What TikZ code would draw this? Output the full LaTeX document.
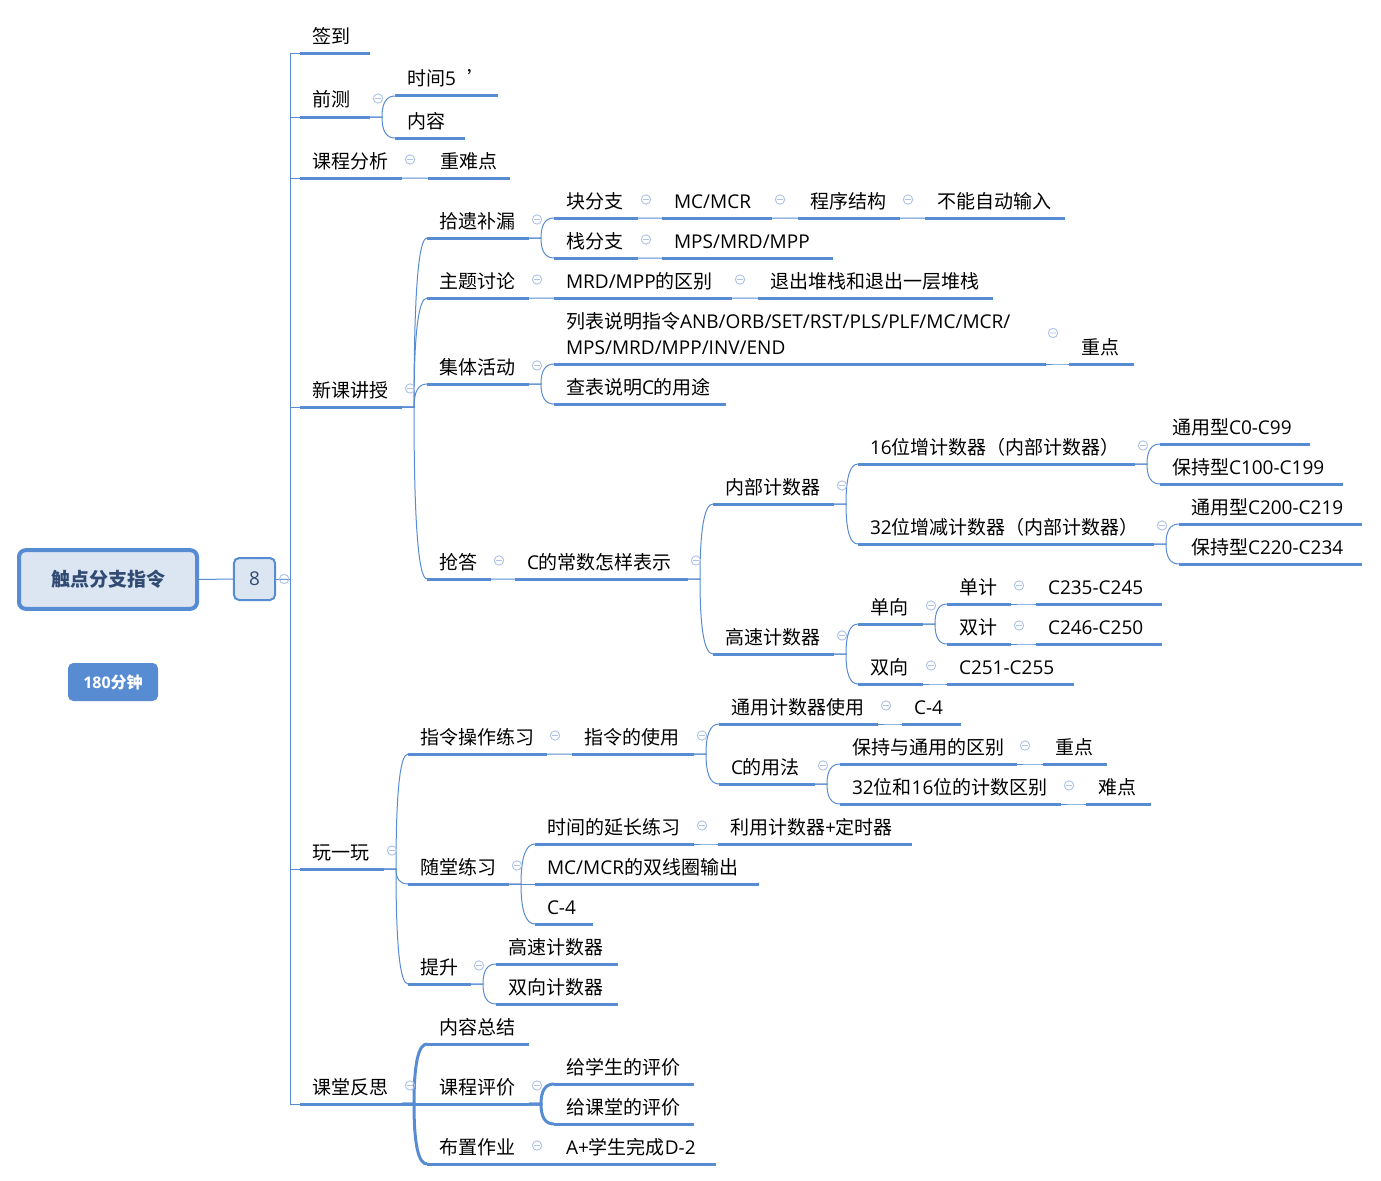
\documentclass[tikz,border=0pt]{standalone}
\usepackage{fontspec}
\setmainfont{Noto Sans CJK SC}
\newfontfamily\lt{Open Sans}
\usetikzlibrary{calc}
\definecolor{lineblue}{RGB}{88,140,210}
\definecolor{collc}{RGB}{175,195,232}
\definecolor{rootfill}{RGB}{220,230,243}
\definecolor{roottext}{RGB}{50,75,115}
\newdimen\pxu \pxu=0.75pt
\newcommand\E[1]{{\lt #1}}
\newcommand\fs{\fontsize{14.25pt}{19.5pt}\selectfont}
\newcommand\T[5]{\node[tp] (#1) at (#2,#3) {\makebox[\dimexpr #4\pxu-24\pxu\relax][l]{#5}};}
\newcommand\cn[3][conn]{\draw[#1] (#2.south east) -- ++(12,0) coordinate (tmpj)
  .. controls ($(tmpj)!0.667!(tmpj |- #3.south west)$) and ($(#3.south west)!0.667!(tmpj |- #3.south west)$) .. (#3.south west);}
\newcommand\cl[1]{\draw[coll] ($(#1.south east)+(8,-18.5)$) circle[radius=3.5pt] ++(-2.2pt,0) -- ++(4.4pt,0);}
\tikzset{
  tp/.style={anchor=south west, inner xsep=9pt, inner ysep=0pt, outer sep=0pt,
    text height=11pt, text depth=7.5pt, font=\fs, text=black},
  ul/.style={draw=lineblue, line width=2.25pt},
  conn/.style={draw=lineblue, line width=0.75pt},
  thickconn/.style={draw=lineblue, line width=2.25pt},
  coll/.style={draw=collc, line width=0.7pt},
}
\begin{document}
\begin{tikzpicture}[x=0.75pt,y=-0.75pt]
\fill[white] (0,0) rectangle (1381,1181);
\useasboundingbox (0,0) rectangle (1381,1181);

% root and side nodes
\node[draw=lineblue, line width=3pt, fill=rootfill, rounded corners=5pt,
  minimum width=133.5pt, minimum height=44pt, text=roottext,
  font=\fontsize{14.25pt}{17pt}\selectfont\bfseries] (root) at (108,579.5) {触点分支指令};
\node[draw=lineblue, line width=1.5pt, fill=rootfill, rounded corners=4pt,
  minimum width=31pt, minimum height=31.5pt, text=roottext,
  font=\fontsize{14.25pt}{17pt}\selectfont] (eight) at (254.5,579) {\E{8}};
\node[fill=lineblue, rounded corners=4pt, minimum width=67.5pt, minimum height=28.5pt,
  text=white, font=\fontsize{12pt}{14pt}\selectfont\bfseries] (tm) at (113,682) {\E{\bfseries 180}分钟};

% level 1
\T{qd}{300}{54}{70}{签到}
\T{qc}{300}{117}{70}{前测}
\T{kc}{300}{178}{102}{课程分析}
\T{xk}{300}{407}{102}{新课讲授}
\T{wyw}{300}{869}{84}{玩一玩}
\T{kt}{300}{1104}{102}{课堂反思}

% 前测 / 课程分析
\T{sj}{395}{96}{103}{时间\E{5}\hspace{9pt}’}
\T{nr}{395}{138}{70}{内容}
\T{znd}{428}{178}{82}{重难点}

% 新课讲授
\T{sy}{427}{238}{102}{拾遗补漏}
\T{zt}{427}{298}{102}{主题讨论}
\T{jt}{427}{384}{102}{集体活动}
\T{qd2}{427}{579}{64}{抢答}
\T{kfz}{554}{218}{84}{块分支}
\T{zfz}{554}{258}{84}{栈分支}
\T{mc}{662}{218}{110}{\E{MC/MCR}}
\T{cxjg}{798}{218}{102}{程序结构}
\T{bnzd}{925}{218}{140}{不能自动输入}
\T{mps}{662}{258}{171}{\E{MPS/MRD/MPP}}
\T{mrd}{554}{298}{178}{\E{MRD/MPP}的区别}
\T{tczz}{758}{298}{235}{退出堆栈和退出一层堆栈}
\T{lb}{554}{364}{492}{\begin{tabular}[b]{@{}l@{}}列表说明指令\E{ANB/ORB/SET/RST/PLS/PLF/MC/MCR/}\\\E{MPS/MRD/MPP/INV/END}\end{tabular}}
\T{zd1}{1069}{364}{65}{重点}
\T{cb}{554}{404}{172}{查表说明\E{C}的用途}
\T{cs}{515}{579}{173}{\E{C}的常数怎样表示}
\T{nb}{713}{504}{121}{内部计数器}
\T{gs}{713}{654}{121}{高速计数器}
\T{b16}{858}{464}{277}{\E{16}位增计数器（内部计数器）}
\T{ty0}{1160}{444}{150}{通用型\E{C0-C99}}
\T{bc100}{1160}{484}{183}{保持型\E{C100-C199}}
\T{b32}{858}{544}{296}{\E{32}位增减计数器（内部计数器）}
\T{ty200}{1179}{524}{183}{通用型\E{C200-C219}}
\T{bc220}{1179}{564}{183}{保持型\E{C220-C234}}
\T{dx}{858}{624}{65}{单向}
\T{sx}{858}{684}{65}{双向}
\T{dj}{947}{604}{64}{单计}
\T{sj2}{947}{644}{64}{双计}
\T{c235}{1036}{604}{126}{\E{C235-C245}}
\T{c246}{1036}{644}{126}{\E{C246-C250}}
\T{c251}{947}{684}{127}{\E{C251-C255}}

% 玩一玩
\T{zl}{408}{754}{139}{指令操作练习}
\T{zlsy}{572}{754}{122}{指令的使用}
\T{tyjs}{719}{724}{159}{通用计数器使用}
\T{c4a}{902}{724}{59}{\E{C-4}}
\T{cyf}{719}{784}{96}{\E{C}的用法}
\T{bcy}{840}{764}{177}{保持与通用的区别}
\T{zd2}{1043}{764}{64}{重点}
\T{wb}{840}{804}{221}{\E{32}位和\E{16}位的计数区别}
\T{nd}{1086}{804}{65}{难点}
\T{st}{408}{884}{101}{随堂练习}
\T{sjyc}{535}{844}{159}{时间的延长练习}
\T{lyjs}{718}{844}{194}{利用计数器\E{+}定时器}
\T{mcsx}{535}{884}{224}{\E{MC/MCR}的双线圈输出}
\T{c4b}{535}{924}{58}{\E{C-4}}
\T{ts}{408}{984}{63}{提升}
\T{gsjs}{496}{964}{122}{高速计数器}
\T{sxjs}{496}{1004}{122}{双向计数器}

% 课堂反思
\T{nrzj}{427}{1044}{102}{内容总结}
\T{kcpj}{427}{1104}{102}{课程评价}
\T{bzzy}{427}{1164}{102}{布置作业}
\T{gxs}{554}{1084}{140}{给学生的评价}
\T{gkt}{554}{1124}{140}{给课堂的评价}
\T{ajs}{554}{1164}{162}{\E{A+}学生完成\E{D-2}}

% underlines
\foreach \n in {qd,qc,kc,xk,wyw,kt,sj,nr,znd,sy,zt,jt,qd2,kfz,zfz,mc,cxjg,bnzd,mps,mrd,tczz,lb,zd1,cb,cs,nb,gs,b16,ty0,bc100,b32,ty200,bc220,dx,sx,dj,sj2,c235,c246,c251,zl,zlsy,tyjs,c4a,cyf,bcy,zd2,wb,nd,st,sjyc,lyjs,mcsx,c4b,ts,gsjs,sxjs,nrzj,kcpj,bzzy,gxs,gkt,ajs}
  {\draw[ul] (\n.south west) -- (\n.south east);}

% trunk
\draw[conn] (root.east) -- (eight.west);
\coordinate (tj) at (290,579);
\draw[conn] (eight.east) -- (tj);
\foreach \n in {qd,qc,kc,xk,wyw,kt} {\draw[conn] (tj) |- (\n.south west);}

% curved connectors
\cn{qc}{sj} \cn{qc}{nr} \cn{kc}{znd}
\cn{xk}{sy} \cn{xk}{zt} \cn{xk}{jt} \cn{xk}{qd2}
\cn{sy}{kfz} \cn{sy}{zfz}
\cn{kfz}{mc} \cn{mc}{cxjg} \cn{cxjg}{bnzd} \cn{zfz}{mps}
\cn{zt}{mrd} \cn{mrd}{tczz}
\cn{jt}{lb} \cn{jt}{cb} \cn{lb}{zd1}
\cn{qd2}{cs} \cn{cs}{nb} \cn{cs}{gs}
\cn{nb}{b16} \cn{nb}{b32}
\cn{b16}{ty0} \cn{b16}{bc100} \cn{b32}{ty200} \cn{b32}{bc220}
\cn{gs}{dx} \cn{gs}{sx} \cn{dx}{dj} \cn{dx}{sj2}
\cn{dj}{c235} \cn{sj2}{c246} \cn{sx}{c251}
\cn{wyw}{zl} \cn{wyw}{st} \cn{wyw}{ts}
\cn{zl}{zlsy} \cn{zlsy}{tyjs} \cn{zlsy}{cyf} \cn{tyjs}{c4a}
\cn{cyf}{bcy} \cn{cyf}{wb} \cn{bcy}{zd2} \cn{wb}{nd}
\cn{st}{sjyc} \cn{st}{mcsx} \cn{st}{c4b} \cn{sjyc}{lyjs}
\cn{ts}{gsjs} \cn{ts}{sxjs}
\cn[thickconn]{kt}{nrzj} \cn[thickconn]{kt}{kcpj} \cn[thickconn]{kt}{bzzy}
\cn[thickconn]{kcpj}{gxs} \cn[thickconn]{kcpj}{gkt} \cn[thickconn]{bzzy}{ajs}

% collapse markers
\draw[coll] ($(eight.east)+(8,0)$) circle[radius=3.5pt] ++(-2.2pt,0) -- ++(4.4pt,0);
\draw[coll] (1053,333) circle[radius=3.5pt] ++(-2.2pt,0) -- ++(4.4pt,0);
\foreach \n in {qc,kc,xk,wyw,kt,sy,zt,jt,qd2,kfz,zfz,mc,cxjg,mrd,cs,nb,gs,b16,b32,dx,dj,sj2,sx,zl,zlsy,tyjs,cyf,bcy,wb,st,sjyc,ts,kcpj,bzzy}
  {\cl{\n}}
\end{tikzpicture}
\end{document}
